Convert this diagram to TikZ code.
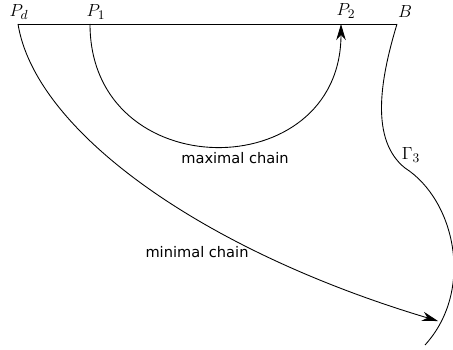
\documentclass[tikz,border=0pt]{standalone}
\usepackage{fontspec}
\usepackage{tikz}
\usetikzlibrary{arrows.meta,positioning}
\newfontfamily\chainfont{DejaVu Sans}

\begin{document}
\begin{tikzpicture}[
x=0.685pt, y=-0.685pt,
pt/.style={font=\fontsize{12.5}{14}\selectfont, inner sep=1pt},
chainlabel/.style={font=\chainfont\fontsize{10}{12}\selectfont, inner sep=0pt},
line/.style={line width=0.6pt},
arrow/.style={-{Stealth[length=11pt, width=6.5pt, inset=3.5pt]}, line width=0.6pt}
]
\useasboundingbox (0,0) rectangle (453,349);
\coordinate (Pd) at (18,24);
\coordinate (P1) at (90,24);
\coordinate (P2) at (341,24);
\coordinate (B) at (397,24);
\coordinate (end) at (438,321);
\node[pt] (lPd) at (19,12) {$P_d$};
\node[pt] (lP1) at (96,12) {$P_1$};
\node[pt] (lP2) at (346,11) {$P_2$};
\node[pt] (lB) at (405,12) {$B$};
\node[pt] (gamma) at (411,155) {$\Gamma_3$};
\node[chainlabel] (max) at (235,158) {maximal chain};
\node[chainlabel] (min) at (197,252) {minimal chain};
\draw[line] (Pd) -- (B);
\draw[arrow] (P1) .. controls +(0,163) and +(0,163) .. (P2);
\draw[arrow] (Pd) .. controls (35,130) and (200,250) .. (end);
\draw[line] (B) .. controls (380,80) and (370,140) .. (405,168)
  .. controls (455,200) and (475,290) .. (425,345);
\end{tikzpicture}
\end{document}
